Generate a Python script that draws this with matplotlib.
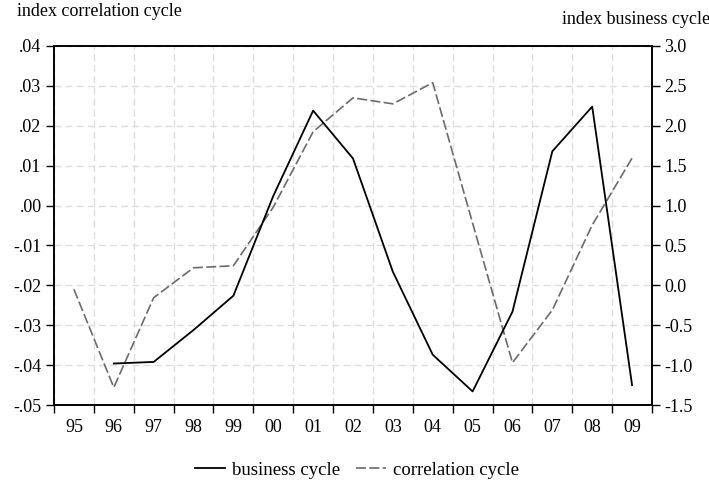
import numpy as np
import matplotlib.pyplot as plt

years = ['95', '96', '97', '98', '99', '00', '01', '02', '03', '04', '05', '06', '07', '08', '09']
# business cycle (right axis), starts in 96
business = [np.nan, -0.98, -0.96, -0.56, -0.13, 1.12, 2.19, 1.59, 0.17, -0.87, -1.33, -0.33, 1.68, 2.24, -1.25]
# correlation cycle (left axis)
correlation = [-0.021, -0.0456, -0.0231, -0.0156, -0.0151, -0.0004, 0.0185, 0.0270, 0.0255, 0.0308,
               -0.0044, -0.0394, -0.0262, -0.0049, 0.0119]

left_ticks = [0.04, 0.03, 0.02, 0.01, 0.0, -0.01, -0.02, -0.03, -0.04, -0.05]
left_labels = ['.04', '.03', '.02', '.01', '.00', '-.01', '-.02', '-.03', '-.04', '-.05']
right_ticks = [3.0, 2.5, 2.0, 1.5, 1.0, 0.5, 0.0, -0.5, -1.0, -1.5]

plt.rcParams['font.family'] = ['Liberation Serif', 'DejaVu Serif']
plt.rcParams['font.size'] = 13

fig = plt.figure(figsize=(7.09, 4.86), dpi=100)
ax = fig.add_axes([54 / 709, 1 - 405 / 486, 598 / 709, 359 / 486])
ax2 = ax.twinx()

x = np.arange(len(years))
l2, = ax.plot(x, correlation, color='#6b6b6b', lw=1.2, dashes=(6, 2))
l1, = ax2.plot(x, business, color='black', lw=1.3)

ax.set_xlim(-0.5, len(years) - 0.5)
ax.set_ylim(-0.05, 0.04)
ax2.set_ylim(-1.5, 3.0)

ax.set_yticks(left_ticks)
ax.set_yticklabels(left_labels)
ax2.set_yticks(right_ticks)
ax2.set_yticklabels(['%.1f' % v for v in right_ticks])

# category ticks at the boundaries, labels at the centres
ax.set_xticks(np.arange(-0.5, len(years), 1.0))
ax.set_xticklabels([])
ax.set_xticks(x, minor=True)
ax.set_xticklabels(years, minor=True)
ax.tick_params(axis='x', which='minor', length=0, pad=10)
ax.tick_params(axis='x', which='major', length=6, direction='out', width=1)
ax.tick_params(axis='y', length=6, width=1, pad=3)
ax2.tick_params(axis='y', length=6, width=1, pad=3)

ax.grid(True, which='major', color='#dddddd', ls=(0, (5, 3)), lw=1)
ax.set_axisbelow(True)

for a in (ax, ax2):
    for s in a.spines.values():
        s.set_linewidth(1.2)
        s.set_color('black')

fig.text(17 / 709, 1 - 12 / 486, 'index correlation cycle', ha='left', va='center', fontsize=13)
fig.text(710 / 709, 1 - 19 / 486, 'index business cycle', ha='right', va='center', fontsize=13)

fig.legend([l1, l2], ['business cycle', 'correlation cycle'], loc='center', bbox_to_anchor=(357 / 709, 1 - 470 / 486),
           ncol=2, frameon=False, handlelength=1.6, columnspacing=0.8, handletextpad=0.4, fontsize=13.5)

fig.savefig('out.png', dpi=100)
